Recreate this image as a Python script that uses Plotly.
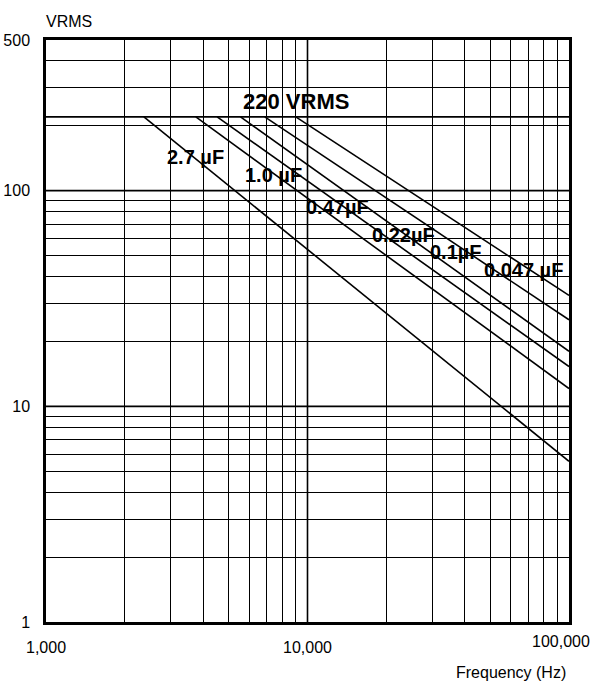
import math
import plotly.graph_objects as go

# ---- data ----
cap_labels = ["2.7 µF", "1.0 µF", "0.47µF", "0.22µF", "0.1µF", "0.047 µF"]
f_start = [2368, 3741, 4513, 5544, 6865, 9020]      # Hz where each line leaves the 220 V cap
v_end = [5.56, 12.1, 15.3, 18.0, 25.2, 32.7]        # VRMS at 100 kHz
f_end = 100000
v_max = 220
label_f = [3741, 7430, 13050, 23320, 36850, 67030]
label_v = [143.6, 118.5, 84.2, 62.5, 52.1, 43.0]
cap_text = "220 VRMS"
cap_text_pos = (9020, 258)

x_grid = [m * 10 ** e for e in (3, 4) for m in range(1, 10)] + [100000]
x_text = ["1,000" if v == 1000 else "10,000" if v == 10000 else "" for v in x_grid]
y_grid = [m * 10 ** e for e in (0, 1) for m in range(1, 10)] + [100, 200, 300, 400, 500]
y_text = [str(v) if v in (1, 10, 100, 500) else "" for v in y_grid]
decades_x = [10000]
decades_y = [10, 100]

FONT = "Liberation Sans, Arial, Helvetica, sans-serif"

fig = go.Figure()
for fs, ve in zip(f_start, v_end):
    fig.add_trace(go.Scatter(x=[fs, f_end], y=[v_max, ve], mode="lines",
                             line=dict(color="black", width=1.6), hoverinfo="skip"))

shapes = []
for xv in decades_x:
    shapes.append(dict(type="line", xref="x", yref="paper", x0=xv, x1=xv, y0=0, y1=1,
                       line=dict(color="black", width=1.6)))
for yv in decades_y + [v_max]:
    shapes.append(dict(type="line", xref="paper", yref="y", x0=0, x1=1, y0=yv, y1=yv,
                       line=dict(color="black", width=1.8)))

ann = []
for t, fx, vy in zip(cap_labels, label_f, label_v):
    ann.append(dict(x=math.log10(fx), y=math.log10(vy), xref="x", yref="y", text=t,
                    showarrow=False, font=dict(family=FONT, size=20, color="black", weight="bold")))
ann.append(dict(x=math.log10(cap_text_pos[0]), y=math.log10(cap_text_pos[1]), xref="x", yref="y",
                text=cap_text, showarrow=False,
                font=dict(family=FONT, size=22, color="black", weight="bold")))
ann.append(dict(x=math.log10(f_end), y=0, xref="x", yref="paper", yanchor="top", xanchor="right",
                xshift=23, yshift=-9, text="100,000", showarrow=False,
                font=dict(family=FONT, size=16, color="black")))
ann.append(dict(x=1, y=0, xref="paper", yref="paper", xanchor="right", yanchor="middle",
                xshift=-1, yshift=-50, text="Frequency (Hz)", showarrow=False,
                font=dict(family=FONT, size=16, color="black")))
ann.append(dict(x=0, y=1, xref="paper", yref="paper", xanchor="left", yanchor="middle",
                xshift=-2, yshift=19, text="VRMS", showarrow=False,
                font=dict(family=FONT, size=16, color="black")))

axis_common = dict(type="log", showgrid=True, gridcolor="black", gridwidth=1,
                   showline=True, linecolor="black", linewidth=2.5, mirror=True,
                   ticks="", zeroline=False, tickmode="array", automargin=False,
                   tickfont=dict(family=FONT, size=16, color="black"))

fig.update_layout(
    width=594, height=683,
    margin=dict(l=46, r=25, t=40, b=61, autoexpand=False),
    plot_bgcolor="white", paper_bgcolor="white",
    showlegend=False,
    shapes=shapes, annotations=ann,
    xaxis=dict(range=[3, 5], tickvals=x_grid, ticktext=x_text, ticklabelstandoff=9, **axis_common),
    yaxis=dict(range=[0, math.log10(500)], tickvals=y_grid, ticktext=y_text, ticklabelstandoff=10,
               **axis_common),
)

fig.write_html("out.html", config={"displayModeBar": False},
               post_script="document.body.style.margin='0';document.body.style.overflow='hidden';")
